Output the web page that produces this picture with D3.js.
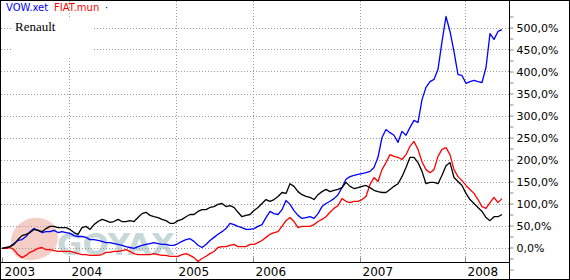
<!DOCTYPE html>
<html><head><meta charset="utf-8">
<script src="https://cdn.jsdelivr.net/npm/d3@7"></script>
<style>
html,body{margin:0;padding:0;background:#fff;}
svg{display:block;}
</style></head>
<body>
<svg id="chart" width="570" height="280"></svg>
<script>
// ---- data (percent change since start, sampled at regular intervals) ----
const seriesNames = ["VOW.xet", "FIAT.mun", "Renault"];
const seriesColors = ["#0000ff", "#ff0000", "#000000"];
const vow = [-2,-2,2,9,16,18,25,36,43,39,34,36,36,39,34,36,34,32,27,25,25,23,18,18,16,14,11,11,9,7,5,2,0,-2,2,5,7,9,11,9,7,7,5,5,9,14,18,20,14,5,0,7,16,23,30,36,43,55,52,48,45,41,41,43,48,52,68,82,77,75,86,107,98,84,73,66,68,70,66,77,93,100,105,111,120,136,155,161,164,166,168,170,173,182,205,250,268,261,255,239,264,255,273,289,284,336,364,377,382,405,468,525,491,445,393,391,373,377,380,377,375,409,486,473,491,495];
const fiat = [-2,-2,0,-5,-16,-23,-18,-11,-7,-2,0,-5,-5,-7,-9,-9,-9,-9,-11,-14,-16,-16,-18,-18,-18,-16,-11,-11,-9,-9,-7,-5,-9,-14,-16,-16,-16,-16,-14,-16,-18,-18,-20,-20,-20,-16,-14,-18,-23,-32,-25,-20,-14,-9,0,2,2,5,7,2,2,2,7,7,11,16,23,30,34,36,48,61,68,59,45,48,48,48,52,59,64,70,80,89,95,111,105,102,105,105,109,116,143,159,150,177,193,211,207,205,200,211,230,241,223,195,177,170,177,207,223,227,211,177,161,152,141,132,123,109,93,89,102,114,102,111];
const renault = [-2,0,2,7,18,27,30,34,41,39,36,43,48,48,45,45,45,41,34,30,45,48,41,52,59,64,61,57,59,64,59,59,61,59,68,77,80,73,70,68,64,61,55,55,61,64,70,75,75,82,86,86,91,93,98,100,93,95,91,80,70,73,75,84,91,100,109,105,109,116,125,123,145,139,127,120,116,114,109,120,127,132,127,130,132,136,148,139,134,136,139,141,136,130,127,125,125,132,139,145,161,182,205,205,193,173,145,148,148,145,164,186,193,159,150,141,123,109,100,91,82,68,61,70,70,75];
const yearLabels = ["2003","2004","2005","2006","2007","2008"];
const yearPositions = [0, 16.75, 43.5, 62.75, 89.5, 115.75]; // in sample-index units
const yTickValues = d3.range(-50, 526, 25);
const yLabelValues = d3.range(0, 501, 50);

const svg = d3.select("#chart");
const W = 570, H = 280;
const plotRight = 509.5, plotBottom = 262.5;

svg.append("rect").attr("x",0).attr("y",0).attr("width",W).attr("height",H).attr("fill","#fff");

const x = d3.scaleLinear().domain([0, vow.length - 1]).range([2, 502]);
const y = d3.scaleLinear().domain([0, 500]).range([247.5, 27.5]);

// watermark
const wm = svg.append("g");
wm.append("path")
  .attr("d","M12,250 C8,238 14,226 24,221 C32,216 44,217 52,223 C58,229 60,240 55,248 C50,256 40,260 30,260 C20,260 14,256 12,250 Z")
  .attr("fill","#f5cfc7");
wm.append("text").attr("x",57).attr("y",255)
  .attr("font-family","DejaVu Sans").attr("font-weight","bold").attr("font-size",30)
  .attr("textLength",118).attr("lengthAdjust","spacingAndGlyphs")
  .attr("fill","#c6d8d8").text("GOYAX");

// grid
const grid = svg.append("g").attr("stroke","#999").attr("stroke-dasharray","1,2").attr("stroke-width",1);
yLabelValues.forEach(v => {
  grid.append("line").attr("x1",1).attr("x2",plotRight).attr("y1",Math.round(y(v))+0.5).attr("y2",Math.round(y(v))+0.5);
});
yearPositions.slice(1).forEach(p => {
  grid.append("line").attr("x1",Math.round(x(p))+0.5).attr("x2",Math.round(x(p))+0.5).attr("y1",1).attr("y2",plotBottom);
});

// legend box hiding grid
svg.append("rect").attr("x",12).attr("y",17).attr("width",80).attr("height",39).attr("fill","#fff");

// lines
const line = d3.line().x((d,i) => x(i)).y(d => y(d));
[vow, fiat, renault].forEach((s, k) => {
  svg.append("path").datum(s).attr("d", line)
    .attr("fill","none").attr("stroke", seriesColors[k]).attr("stroke-width",1.3)
    .attr("stroke-linejoin","round");
});

// cover below the plot
svg.append("rect").attr("x",0).attr("y",plotBottom).attr("width",W).attr("height",H-plotBottom).attr("fill","#fff");
svg.append("rect").attr("x",plotRight).attr("y",0).attr("width",W-plotRight).attr("height",H).attr("fill","#fff");

// right axis
const fmt = v => v.toFixed(1).replace(".", ",") + "%";
const yAxisG = svg.append("g").attr("transform",`translate(${plotRight},0)`)
  .call(d3.axisRight(y).tickValues(yTickValues).tickSize(4).tickPadding(3)
        .tickFormat(v => (v >= 0 && v <= 500 && v % 50 === 0) ? fmt(v) : ""));
yAxisG.select(".domain").remove();
yAxisG.selectAll(".tick line").attr("stroke","#888");
yAxisG.selectAll("text").attr("font-family","DejaVu Sans").attr("font-size",11).attr("fill","#000");
svg.append("line").attr("x1",plotRight).attr("x2",plotRight).attr("y1",0).attr("y2",H).attr("stroke","#000");

// bottom axis
const xAxisG = svg.append("g").attr("transform",`translate(0,${plotBottom})`)
  .call(d3.axisBottom(x).tickValues(yearPositions).tickSize(-5)
        .tickFormat((d,i) => yearLabels[i]));
xAxisG.select(".domain").remove();
xAxisG.selectAll(".tick line").attr("stroke","#888");
xAxisG.selectAll("text").attr("text-anchor","start").attr("x",2).attr("y",5).attr("dy","0.71em")
  .attr("font-family","DejaVu Sans").attr("font-size",12).attr("fill","#000");
svg.append("line").attr("x1",0).attr("x2",plotRight).attr("y1",plotBottom).attr("y2",plotBottom).attr("stroke","#000");

// legend
const lg = svg.append("g").attr("font-family","DejaVu Sans").attr("font-size",10);
lg.append("text").attr("x",6).attr("y",11).attr("fill",seriesColors[0]).text(seriesNames[0]);
lg.append("text").attr("x",54).attr("y",11).attr("fill",seriesColors[1]).text(seriesNames[1]);
lg.append("text").attr("x",105).attr("y",11).attr("fill","#000").text("·");
svg.append("text").attr("x",15).attr("y",31).attr("font-family","Liberation Serif").attr("font-size",13)
  .attr("fill",seriesColors[2]).text(seriesNames[2]);

// outer border
svg.append("rect").attr("x",0.5).attr("y",0.5).attr("width",W-1).attr("height",H-1)
  .attr("fill","none").attr("stroke","#000");
</script>
</body></html>
